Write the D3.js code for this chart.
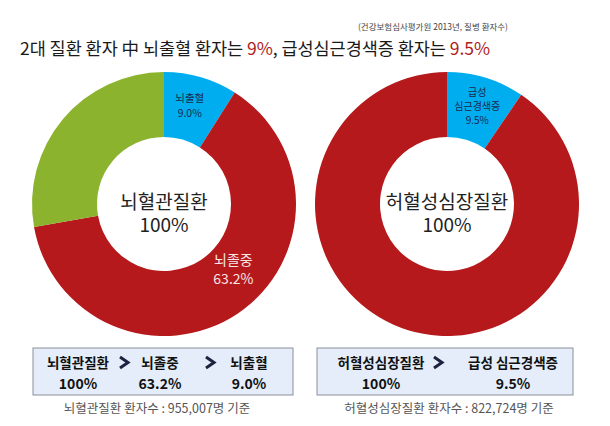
<!DOCTYPE html>
<html><head><meta charset="utf-8">
<script src="https://cdn.jsdelivr.net/npm/d3@7"></script>
<style>
html,body{margin:0;padding:0;background:#fff;}
text{font-family:"Noto Sans CJK KR","Noto Sans",sans-serif;}
</style></head>
<body>
<svg id="c" width="610" height="426"></svg>
<script>
// Data
const leftCategories = ["뇌출혈", "뇌졸중", "기타"];
const leftValues = [9.0, 63.2, 27.8];
const rightCategories = ["급성 심근경색증", "기타"];
const rightValues = [9.5, 90.5];
const leftTableHeaders = ["뇌혈관질환", "뇌졸중", "뇌출혈"];
const leftTableValues = ["100%", "63.2%", "9.0%"];
const rightTableHeaders = ["허혈성심장질환", "급성 심근경색증"];
const rightTableValues = ["100%", "9.5%"];

const svg = d3.select("#c");
const red = "#b5191b", blue = "#00adef", green = "#8cb32e";

// Source & title
svg.append("text").attr("x", 508).attr("y", 30).attr("text-anchor", "end")
  .attr("font-size", 8.5).attr("fill", "#444").text("(건강보험심사평가원 2013년, 질병 환자수)");
const title = svg.append("text").attr("x", 20).attr("y", 55).attr("font-size", 17.5).attr("fill", "#1a1a1a")
  .attr("textLength", 470).attr("lengthAdjust", "spacing");
title.append("tspan").text("2대 질환 환자 中 뇌출혈 환자는 ");
title.append("tspan").attr("fill", "#b01c1c").text("9%");
title.append("tspan").text(", 급성심근경색증 환자는 ");
title.append("tspan").attr("fill", "#b01c1c").text("9.5%");

const rOut = 132, rIn = 67;
const arc = d3.arc().innerRadius(rIn).outerRadius(rOut);
const pie = d3.pie().sort(null).value(d => d);

function donut(cx, cy, values, colors, centerLines) {
  const g = svg.append("g").attr("transform", `translate(${cx},${cy})`);
  const arcs = pie(values);
  g.selectAll("path").data(arcs).join("path").attr("d", arc)
    .attr("fill", (d, i) => colors[i]);
  centerLines.forEach((t, i) => {
    g.append("text").attr("text-anchor", "middle").attr("font-size", 19).attr("fill", "#222")
      .attr("x", 0).attr("y", 5 + i * 23).text(t);
  });
  return {g, arcs};
}

const L = donut(164, 204, leftValues, [blue, red, green], ["뇌혈관질환", "100%"]);
const R = donut(447, 204, rightValues, [blue, red], ["허혈성심장질환", "100%"]);

function sliceLabel(D, idx, lines, size, color, dx, dy, lh) {
  const c = arc.centroid(D.arcs[idx]);
  lines.forEach((t, i) => {
    D.g.append("text").attr("text-anchor", "middle").attr("font-size", size).attr("fill", color)
      .attr("x", c[0] + dx).attr("y", c[1] + dy + i * lh).text(t);
  });
}
sliceLabel(L, 0, [leftCategories[0], leftValues[0].toFixed(1) + "%"], 10.5, "#1b2a50", -2, -6, 15);
sliceLabel(L, 1, [leftCategories[1], leftValues[1].toFixed(1) + "%"], 14, "#f6e6e6", 14, -22, 19);
sliceLabel(R, 0, ["급성", "심근경색증", rightValues[0].toFixed(1) + "%"], 10, "#1b2a50", 1, -13, 14);

// Tables
function table(x, w, headers, vals, hx, arrows) {
  svg.append("rect").attr("x", x).attr("y", 348).attr("width", w).attr("height", 47)
    .attr("fill", "#e4edf9").attr("stroke", "#8a8f99").attr("stroke-width", 1);
  headers.forEach((h, i) => {
    svg.append("text").attr("x", hx[i]).attr("y", 368).attr("text-anchor", "middle")
      .attr("font-size", 13.5).attr("font-weight", "bold").attr("fill", "#111").text(h);
    svg.append("text").attr("x", hx[i]).attr("y", 389).attr("text-anchor", "middle")
      .attr("font-size", 14).attr("font-weight", "bold").attr("fill", "#111").text(vals[i]);
  });
  arrows.forEach(ax => {
    svg.append("path").attr("d", `M${ax - 4},${357} L${ax + 4},${362.5} L${ax - 4},${368}`)
      .attr("fill", "none").attr("stroke", "#1c2340").attr("stroke-width", 3);
  });
}
table(33, 260, leftTableHeaders, leftTableValues, [78, 160, 249], [124, 210]);
table(317, 256, rightTableHeaders, rightTableValues, [381, 513], [438]);

svg.append("text").attr("x", 157).attr("y", 413).attr("text-anchor", "middle").attr("font-size", 12.5)
  .attr("fill", "#555").text("뇌혈관질환 환자수 : 955,007명 기준");
svg.append("text").attr("x", 449).attr("y", 413).attr("text-anchor", "middle").attr("font-size", 12.5)
  .attr("fill", "#555").text("허혈성심장질환 환자수 : 822,724명 기준");
</script>
</body></html>
